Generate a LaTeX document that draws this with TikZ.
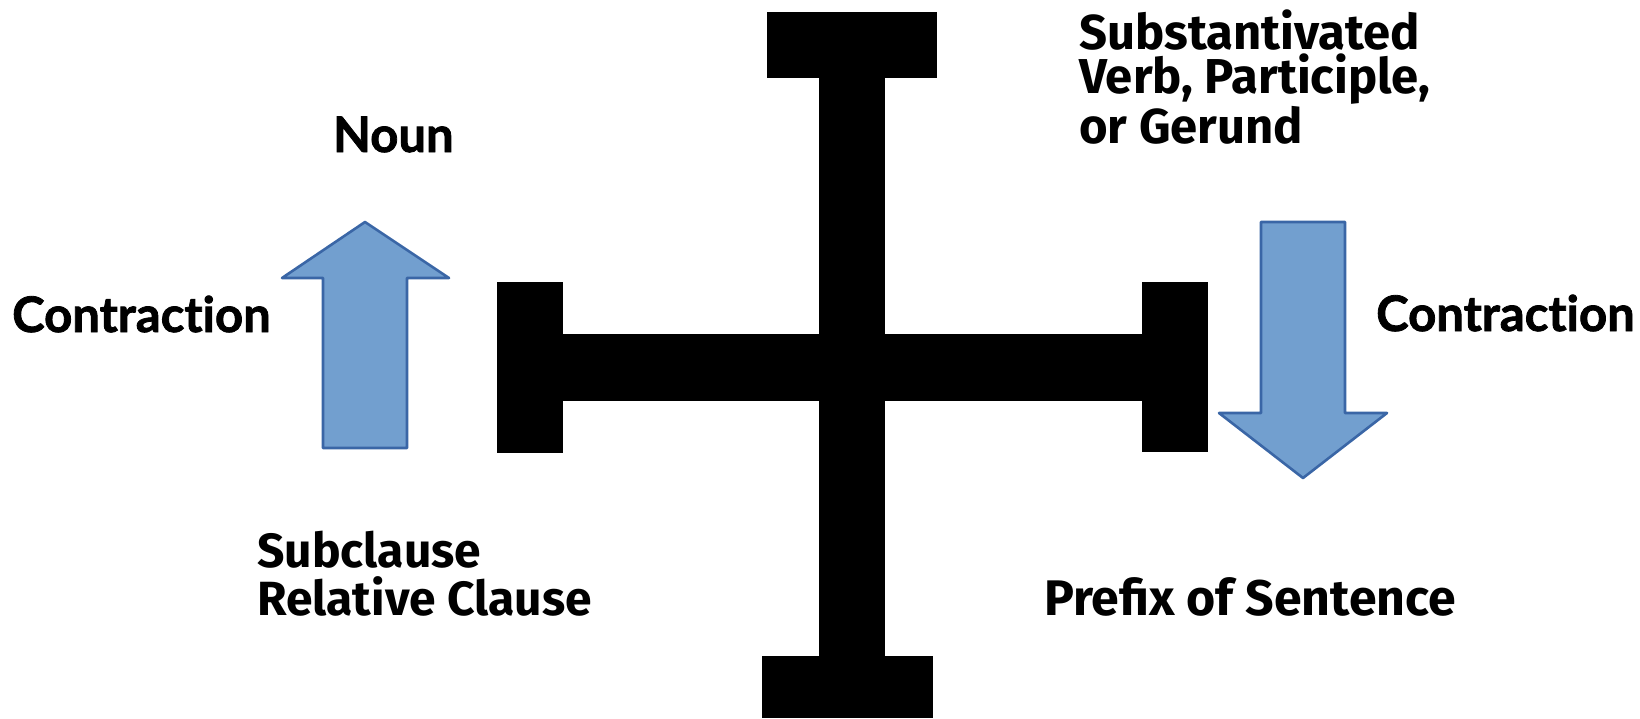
\documentclass[tikz,border=0pt]{standalone}
\usepackage{fontspec}
\newfontfamily\latofont{Lato Bold}[FakeBold=1.6,Ligatures=NoCommon]
\newfontfamily\firafont{Fira Sans}
\definecolor{arrowfill}{HTML}{729FCF}
\definecolor{arrowline}{HTML}{3A66A6}
\begin{document}
\begin{tikzpicture}[x=1pt,y=-1pt,
  bar/.style={fill=black,draw=none},
  bigarrow/.style={fill=arrowfill,draw=arrowline,line width=2.6pt,line join=round},
  latolbl/.style={inner sep=0pt,anchor=base west,font=\latofont\fontsize{49}{56}\selectfont},
  firalbl/.style={inner sep=0pt,anchor=base west,align=left}]
\useasboundingbox (0,0) rectangle (1640,718);
\fill[white] (0,0) rectangle (1640,718);
% cross
\path[bar] (767,12) rectangle (937,78);
\path[bar] (819,78) rectangle (885,656);
\path[bar] (762,656) rectangle (933,718);
\path[bar] (563,334) rectangle (1142,401);
\path[bar] (497,282) rectangle (563,453);
\path[bar] (1142,282) rectangle (1208,452);
% arrows
\draw[bigarrow] (365,222) -- (449,278) -- (407,278) -- (407,448) -- (323,448) -- (323,278) -- (282,278) -- cycle;
\draw[bigarrow] (1261,222) -- (1345,222) -- (1345,413) -- (1387,413) -- (1303,478) -- (1219,413) -- (1261,413) -- cycle;
% labels
\node[latolbl] (noun) at (333,152) {Noun};
\node[latolbl] (contrL) at (12,332) {Contraction};
\node[latolbl] (contrR) at (1376,331) {Contraction};
\node[firalbl,font=\firafont\bfseries\fontsize{49}{44}\selectfont] (subst) at (1079,143) {Substantivated\\Verb, Participle,\\or Gerund};
\node[firalbl,font=\firafont\bfseries\fontsize{48}{48}\selectfont] (subcl) at (257,615) {Subclause\\Relative Clause};
\node[firalbl,font=\firafont\bfseries\fontsize{50}{48}\selectfont] (prefix) at (1044,615) {Prefix of Sentence};
\end{tikzpicture}
\end{document}
